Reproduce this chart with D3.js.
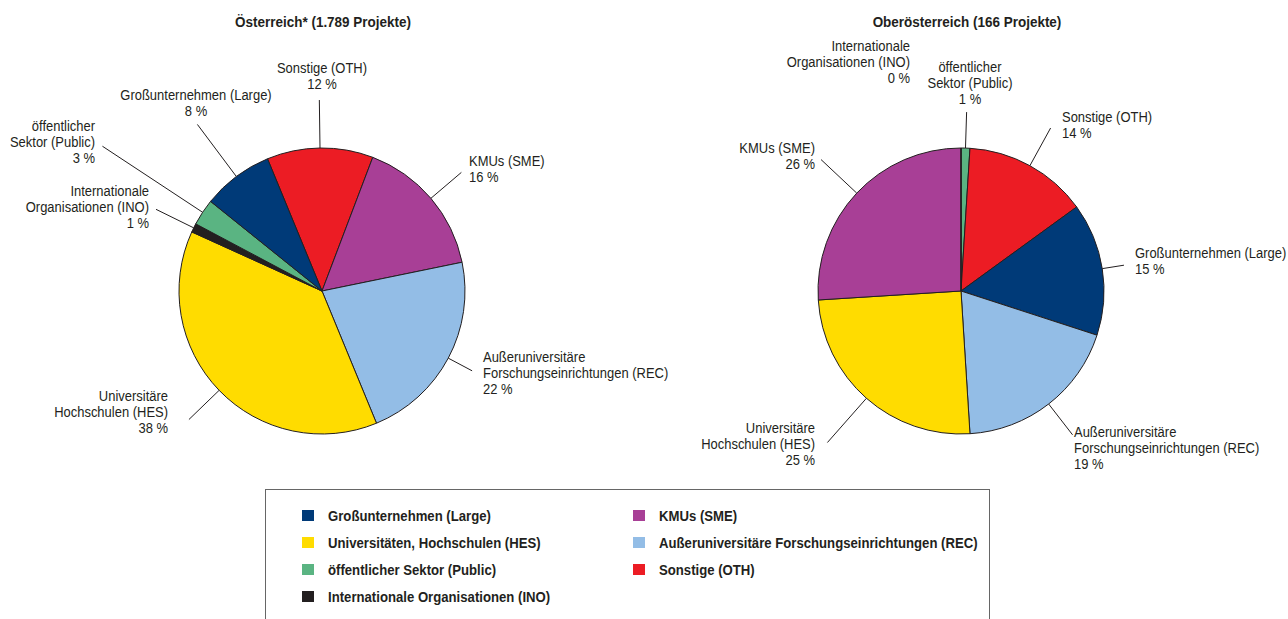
<!DOCTYPE html>
<html>
<head>
<meta charset="utf-8">
<script src="https://cdn.jsdelivr.net/npm/d3@7"></script>
<style>
  body { margin: 0; background: #fff; }
  svg text { font-family: "Liberation Sans", Arial, sans-serif; fill: #231f20; }
</style>
</head>
<body>
<script>
// categories in legend order
var categories = ["Large", "SME", "HES", "REC", "Public", "OTH", "INO"];
var legendLabels = ["Großunternehmen (Large)", "KMUs (SME)", "Universitäten, Hochschulen (HES)",
  "Außeruniversitäre Forschungseinrichtungen (REC)", "öffentlicher Sektor (Public)", "Sonstige (OTH)",
  "Internationale Organisationen (INO)"];
var sliceLabels = [["Großunternehmen (Large)"], ["KMUs (SME)"], ["Universitäre", "Hochschulen (HES)"],
  ["Außeruniversitäre", "Forschungseinrichtungen (REC)"], ["öffentlicher", "Sektor (Public)"],
  ["Sonstige (OTH)"], ["Internationale", "Organisationen (INO)"]];
var colors = ["#003a78", "#a83f96", "#ffdc00", "#93bde6", "#5ab482", "#ec1c24", "#231f20"];

// shares in percent
var austriaValues = [8, 16, 38, 22, 3, 12, 1];
var upperAustriaValues = [15, 26, 25, 19, 1, 14, 0];

var titles = ["Österreich* (1.789 Projekte)", "Oberösterreich (166 Projekte)"];

var width = 1288, height = 619, radius = 143;

var svg = d3.select("body").append("svg")
  .attr("width", width)
  .attr("height", height);

// no condensed font installed: squeeze Liberation Sans horizontally
function condensedText(parent, x, y, sx) {
  return parent.append("g")
    .attr("transform", "translate(" + x + "," + y + ") scale(" + sx + ",1)")
    .append("text");
}

// layout of each pie: draw order, start angle, label placement
var pies = [
  {
    values: austriaValues, title: titles[0], cx: 322, cy: 291, titleX: 323,
    order: ["OTH", "SME", "REC", "HES", "INO", "Public", "Large"], start: -22.4,
    labels: {
      OTH:    { r2: 191, x: 322, y: 73,  anchor: "middle" },
      Large:  { r2: 208, x: 196, y: 100, anchor: "middle" },
      Public: { r2: 263, x: 95,  y: 131, anchor: "end" },
      INO:    { r2: 185, x: 149, y: 196, anchor: "end" },
      SME:    { r2: 183, x: 469, y: 166, anchor: "start" },
      REC:    { r2: 170, x: 483, y: 362, anchor: "start" },
      HES:    { r2: 185, x: 168, y: 401, anchor: "end" }
    }
  },
  {
    values: upperAustriaValues, title: titles[1], cx: 961, cy: 291, titleX: 967,
    order: ["Public", "OTH", "Large", "REC", "HES", "SME", "INO"], start: 0,
    labels: {
      INO:    { r2: 0,   x: 910,  y: 51,  anchor: "end" },
      Public: { r2: 179, x: 970,  y: 72,  anchor: "middle" },
      OTH:    { r2: 186, x: 1062, y: 122, anchor: "start" },
      Large:  { r2: 165, x: 1135, y: 258, anchor: "start" },
      REC:    { r2: 182, x: 1074, y: 437, anchor: "start" },
      HES:    { r2: 202, x: 815,  y: 433, anchor: "end" },
      SME:    { r2: 192, x: 815,  y: 153, anchor: "end" }
    }
  }
];

var arc = d3.arc().innerRadius(0).outerRadius(radius);

pies.forEach(function(p) {
  var data = p.order.map(function(c) {
    var i = categories.indexOf(c);
    return { cat: c, value: p.values[i], color: colors[i], lines: sliceLabels[i] };
  });
  var a0 = p.start * Math.PI / 180;
  var pie = d3.pie().sort(null).value(function(d) { return d.value; })
    .startAngle(a0).endAngle(a0 + 2 * Math.PI);
  var arcs = pie(data);

  condensedText(svg, p.titleX, 27, 0.87)
    .attr("text-anchor", "middle")
    .attr("font-size", 15.5).attr("font-weight", "bold")
    .text(p.title);

  var g = svg.append("g").attr("transform", "translate(" + p.cx + "," + p.cy + ")");
  g.selectAll("path")
    .data(arcs)
    .join("path")
    .attr("d", arc)
    .attr("fill", function(d) { return d.data.color; })
    .attr("stroke", "#231f20")
    .attr("stroke-width", 1)
    .attr("stroke-linejoin", "round");

  arcs.forEach(function(d) {
    var lab = p.labels[d.data.cat];
    var mid = (d.startAngle + d.endAngle) / 2;
    if (lab.r2 > 0) {
      svg.append("line")
        .attr("x1", p.cx + radius * Math.sin(mid)).attr("y1", p.cy - radius * Math.cos(mid))
        .attr("x2", p.cx + lab.r2 * Math.sin(mid)).attr("y2", p.cy - lab.r2 * Math.cos(mid))
        .attr("stroke", "#231f20").attr("stroke-width", 1);
    }
    var t = condensedText(svg, lab.x, lab.y, 0.865)
      .attr("text-anchor", lab.anchor)
      .attr("font-size", 15);
    var lines = d.data.lines.concat([d.data.value + " %"]);
    lines.forEach(function(s, k) {
      t.append("tspan").attr("x", 0).attr("y", k * 16).text(s);
    });
  });
});

// legend
var legend = svg.append("g");
legend.append("rect")
  .attr("x", 265.5).attr("y", 489.5)
  .attr("width", 724).attr("height", 200)
  .attr("fill", "none").attr("stroke", "#666").attr("stroke-width", 1);

var legendCols = [["Large", "HES", "Public", "INO"], ["SME", "REC", "OTH"]];
var colX = [302, 633];
legendCols.forEach(function(col, ci) {
  col.forEach(function(c, ri) {
    var i = categories.indexOf(c);
    var y = 510 + ri * 27;
    legend.append("rect")
      .attr("x", colX[ci]).attr("y", y)
      .attr("width", 12).attr("height", 11)
      .attr("fill", colors[i]);
    condensedText(legend, colX[ci] + 26, y + 11, 0.94)
      .attr("font-size", 14).attr("font-weight", "bold")
      .text(legendLabels[i]);
  });
});
</script>
</body>
</html>
